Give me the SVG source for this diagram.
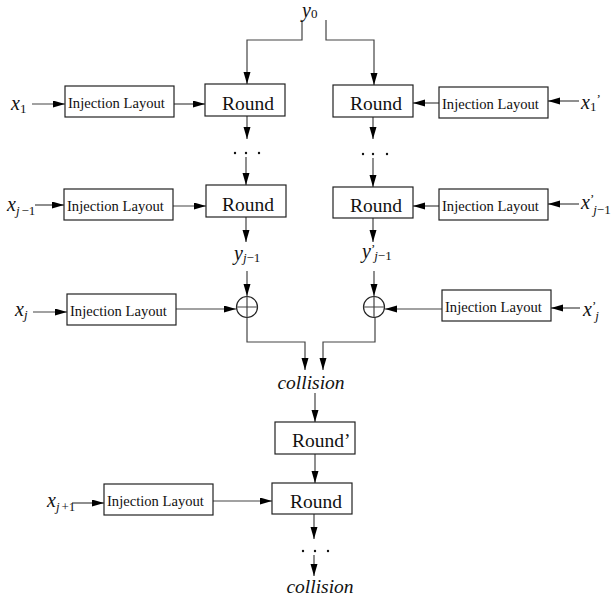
<svg xmlns="http://www.w3.org/2000/svg" width="612" height="599" viewBox="0 0 612 599">
  <style>
    .box { fill: #fff; stroke: #222; stroke-width: 1.2; }
    .wire { fill: none; stroke: #444; stroke-width: 1.2; }
    .arr { marker-end: url(#head); }
    .il { font-family: "Liberation Serif", "Times New Roman", serif; font-size: 14.6px; fill: #111; }
    .rd { font-family: "Liberation Serif", "Times New Roman", serif; font-size: 19.5px; fill: #111; }
    .var { font-family: "Liberation Serif", "Times New Roman", serif; font-style: italic; font-size: 20px; fill: #111; }
    .sub { font-style: normal; font-size: 13px; }
    .subi { font-style: italic; font-size: 13px; }
    .coll { font-family: "Liberation Serif", "Times New Roman", serif; font-style: italic; font-size: 19.5px; fill: #111; }
    .dot { fill: #111; }
    .xor { fill: #fff; stroke: #222; stroke-width: 1.2; }
  </style>
  <defs>
    <marker id="head" markerUnits="userSpaceOnUse" markerWidth="13" markerHeight="8" refX="12" refY="3.5" orient="auto">
      <path d="M0,0 L12,3.5 L0,7 z" fill="#000"/>
    </marker>
  </defs>

  <!-- connectors -->
  <g id="connectors">
    <polyline class="wire arr" points="302,20 302,40 247,40 247,84"/>
    <polyline class="wire arr" points="326,20 326,40 374,40 374,85"/>

    <line class="wire arr" x1="32" y1="104" x2="65" y2="104"/>
    <line class="wire arr" x1="174" y1="104" x2="205" y2="104"/>
    <line class="wire arr" x1="247" y1="116" x2="247" y2="139"/>
    <line class="wire arr" x1="246" y1="157" x2="246" y2="185"/>
    <line class="wire arr" x1="35" y1="205" x2="64" y2="205"/>
    <line class="wire arr" x1="173" y1="206" x2="206" y2="206"/>
    <line class="wire arr" x1="246" y1="217" x2="246" y2="242"/>
    <line class="wire arr" x1="247" y1="271" x2="247" y2="296"/>
    <line class="wire arr" x1="33" y1="312" x2="67" y2="312"/>
    <line class="wire arr" x1="176" y1="309" x2="236" y2="309"/>
    <polyline class="wire arr" points="247,317 247,342 305,342 305,370"/>

    <line class="wire arr" x1="579" y1="101" x2="548" y2="101"/>
    <line class="wire arr" x1="439" y1="103" x2="413" y2="103"/>
    <line class="wire arr" x1="373" y1="117" x2="373" y2="139"/>
    <line class="wire arr" x1="373" y1="158" x2="373" y2="187"/>
    <line class="wire arr" x1="579" y1="204" x2="548" y2="204"/>
    <line class="wire arr" x1="439" y1="206" x2="413" y2="206"/>
    <line class="wire arr" x1="373" y1="218" x2="373" y2="242"/>
    <line class="wire arr" x1="374" y1="271" x2="374" y2="296"/>
    <line class="wire arr" x1="580" y1="308" x2="551" y2="308"/>
    <line class="wire arr" x1="442" y1="309" x2="385" y2="309"/>
    <polyline class="wire arr" points="375,317 375,342 323,342 323,370"/>

    <line class="wire arr" x1="315" y1="393" x2="315" y2="422"/>
    <line class="wire arr" x1="315" y1="454" x2="315" y2="483"/>
    <line class="wire arr" x1="72" y1="503" x2="104" y2="503"/>
    <line class="wire arr" x1="213" y1="501" x2="272" y2="501"/>
    <line class="wire arr" x1="314" y1="514" x2="314" y2="539"/>
    <line class="wire arr" x1="314" y1="555" x2="314" y2="576"/>
  </g>

  <!-- initial chaining value -->
  <g id="y0">
    <text class="var" x="302" y="17">y<tspan class="sub" dy="1">0</tspan></text>
  </g>

  <!-- left branch, first step -->
  <g id="x1"><text class="var" x="11" y="110">x<tspan class="sub" dy="3">1</tspan></text></g>
  <g id="inj-l1"><rect class="box" x="65" y="86" width="109" height="31"/><text class="il" x="68" y="108">Injection Layout</text></g>
  <g id="round-l1"><rect class="box" x="205" y="84" width="80" height="32"/><text class="rd" x="222" y="110">Round</text></g>

  <!-- right branch, first step -->
  <g id="round-r1"><rect class="box" x="333" y="85" width="80" height="32"/><text class="rd" x="350" y="110">Round</text></g>
  <g id="inj-r1"><rect class="box" x="439" y="87" width="109" height="31"/><text class="il" x="442" y="109">Injection Layout</text></g>
  <g id="x1p"><text class="var" x="581" y="109">x<tspan class="sub" dy="2">1</tspan><tspan class="sub" dy="-8">’</tspan></text></g>

  <!-- ellipses between steps -->
  <g id="dots-l"><circle class="dot" cx="235" cy="153" r="1.2"/><circle class="dot" cx="246" cy="153" r="1.2"/><circle class="dot" cx="259" cy="153" r="1.2"/></g>
  <g id="dots-r"><circle class="dot" cx="363" cy="154" r="1.2"/><circle class="dot" cx="373" cy="154" r="1.2"/><circle class="dot" cx="387" cy="154" r="1.2"/></g>

  <!-- left branch, step j-1 -->
  <g id="xjm1"><text class="var" x="7" y="211">x<tspan class="subi" dy="4">j</tspan><tspan class="sub" dx="2">−1</tspan></text></g>
  <g id="inj-l2"><rect class="box" x="64" y="189" width="109" height="31"/><text class="il" x="67" y="211">Injection Layout</text></g>
  <g id="round-l2"><rect class="box" x="206" y="185" width="80" height="32"/><text class="rd" x="222" y="211">Round</text></g>

  <!-- right branch, step j-1 -->
  <g id="round-r2"><rect class="box" x="333" y="187" width="80" height="31"/><text class="rd" x="350" y="212">Round</text></g>
  <g id="inj-r2"><rect class="box" x="439" y="189" width="109" height="31"/><text class="il" x="442" y="211">Injection Layout</text></g>
  <g id="xjm1p">
    <text class="var" x="581" y="209">x<tspan class="sub" dy="-6">’</tspan><tspan class="subi" dx="-1" dy="11">j</tspan><tspan class="sub">−1</tspan></text>
  </g>

  <!-- chaining values after step j-1 -->
  <g id="yjm1"><text class="var" x="234" y="260">y<tspan class="subi" dy="2">j</tspan><tspan class="sub">−1</tspan></text></g>
  <g id="yjm1p">
    <text class="var" x="362" y="258">y<tspan class="sub" dy="-5">’</tspan><tspan class="subi" dx="-1" dy="7">j</tspan><tspan class="sub">−1</tspan></text>
  </g>

  <!-- XOR with step j injections -->
  <g id="xor-l"><circle class="xor" cx="247" cy="307" r="10.5"/><path class="wire" d="M236.5,307 H257.5 M247,296.5 V317.5"/></g>
  <g id="xor-r"><circle class="xor" cx="374" cy="307" r="10.5"/><path class="wire" d="M363.5,307 H384.5 M374,296.5 V317.5"/></g>

  <g id="xj"><text class="var" x="15" y="316">x<tspan class="subi" dy="3">j</tspan></text></g>
  <g id="inj-l3"><rect class="box" x="67" y="294" width="109" height="31"/><text class="il" x="70" y="316">Injection Layout</text></g>
  <g id="inj-r3"><rect class="box" x="442" y="290" width="109" height="31"/><text class="il" x="445" y="312">Injection Layout</text></g>
  <g id="xjp">
    <text class="var" x="583" y="316">x<tspan class="sub" dy="-6">’</tspan><tspan class="subi" dx="-1" dy="10">j</tspan></text>
  </g>

  <!-- merged path -->
  <g id="collision-1"><text class="coll" x="311" y="389" text-anchor="middle">collision</text></g>
  <g id="round-prime"><rect class="box" x="275" y="422" width="80" height="32"/><text class="rd" x="292" y="447">Round’</text></g>
  <g id="round-3"><rect class="box" x="272" y="483" width="80" height="31"/><text class="rd" x="290" y="508">Round</text></g>
  <g id="inj-4"><rect class="box" x="104" y="484" width="109" height="31"/><text class="il" x="107" y="506">Injection Layout</text></g>
  <g id="xjp1"><text class="var" x="47" y="507">x<tspan class="subi" dy="4">j</tspan><tspan class="sub" dx="2">+1</tspan></text></g>
  <g id="dots-3"><circle class="dot" cx="303" cy="551" r="1.2"/><circle class="dot" cx="315" cy="551" r="1.2"/><circle class="dot" cx="328" cy="551" r="1.2"/></g>
  <g id="collision-2"><text class="coll" x="320" y="593" text-anchor="middle">collision</text></g>
</svg>
